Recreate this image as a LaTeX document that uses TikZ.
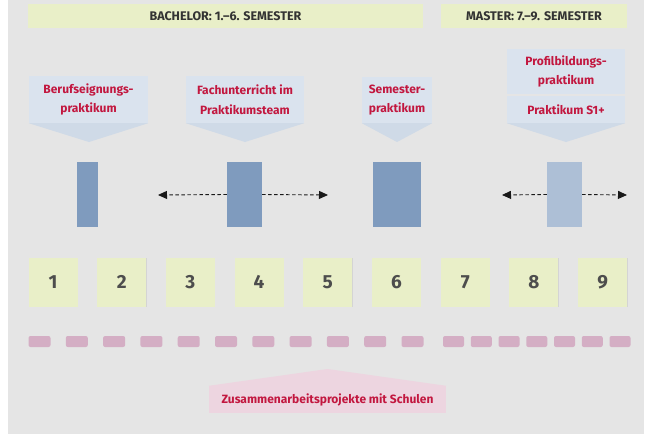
\documentclass[tikz,border=0pt]{standalone}
\usepackage{fontspec}
\setmainfont{Fira Sans}[UprightFont=* SemiBold, BoldFont=* Bold]
\usetikzlibrary{arrows.meta,shadows}
\definecolor{bggray}{HTML}{E5E5E5}
\definecolor{yellowc}{HTML}{E9EFC8}
\definecolor{bluedark}{HTML}{7F9BBE}
\definecolor{bluelight}{HTML}{ADBFD6}
\definecolor{callout}{HTML}{DAE3EE}
\definecolor{callouttri}{HTML}{CFDAE7}
\definecolor{pill}{HTML}{D4AEC4}
\definecolor{pinkbox}{HTML}{EDD5E0}
\definecolor{redtext}{HTML}{C2173F}
\definecolor{darktext}{HTML}{333333}
\definecolor{numtext}{HTML}{4D4D4D}
\tikzset{
  softshadow/.style={drop shadow={shadow xshift=0.4pt, shadow yshift=-0.4pt, opacity=0.07, fill=black}},
  hdr/.style={fill=yellowc, softshadow, inner sep=0pt, minimum height=24pt, text=darktext,
    font=\bfseries\fontsize{12.5}{14}\selectfont},
  semsq/.style={fill=yellowc, softshadow, inner sep=0pt, minimum width=49pt, minimum height=49pt,
    text=numtext, font=\bfseries\fontsize{19}{21}\selectfont},
  pillb/.style={fill=pill, rounded corners=2pt, inner sep=0pt, minimum height=11pt},
  bar/.style={fill=bluedark, softshadow, inner sep=0pt, minimum height=65pt},
  barlight/.style={fill=bluelight, softshadow, inner sep=0pt, minimum height=65pt},
  calloutbox/.style={fill=callout, inner sep=0pt, text=redtext, align=center,
    font=\bfseries\fontsize{12}{19.5}\selectfont},
  pinkcallout/.style={fill=pinkbox, inner sep=0pt, text=redtext,
    font=\bfseries\fontsize{12}{14}\selectfont},
  dasharrow/.style={draw=black!90, line width=0.9pt, dash pattern=on 3.5pt off 2.5pt,
    -{Triangle[length=9pt,width=8pt]}}
}
\begin{document}
\begin{tikzpicture}[x=1pt,y=-1pt]
\fill[white] (0,0) rectangle (650,434);
\fill[bggray] (8,0) rectangle (644,434);
\useasboundingbox (0,0) rectangle (650,434);

% headers
\node[hdr, minimum width=395pt] (bach) at (225.5,16) {BACHELOR: 1.–6. SEMESTER};
\node[hdr, minimum width=186pt] (mast) at (534,16) {MASTER: 7.–9. SEMESTER};

% callouts
\node[calloutbox, minimum width=119pt, minimum height=47pt] (c1) at (88.5,99.5) {Berufseignungs-\\praktikum};
\coordinate (t1) at (89,142);
\fill[callouttri] (c1.south west) -- (c1.south east) -- (t1) -- cycle;

\node[calloutbox, minimum width=118pt, minimum height=47pt] (c2) at (245,99.5) {Fachunterricht im\\Praktikumsteam};
\coordinate (t2) at (245,142);
\fill[callouttri] (c2.south west) -- (c2.south east) -- (t2) -- cycle;

\node[calloutbox, minimum width=70pt, minimum height=46pt] (c3) at (397,100) {Semester-\\praktikum};
\coordinate (t3) at (397,142);
\fill[callouttri] (c3.south west) -- (c3.south east) -- (t3) -- cycle;

\node[calloutbox, minimum width=118pt, minimum height=44.5pt] (c4a) at (566,71.25) {Profilbildungs-\\praktikum};
\node[calloutbox, minimum width=118pt, minimum height=27.5pt] (c4b) at (566,109.25) {Praktikum S1+};
\coordinate (t4) at (566,142);
\fill[callouttri] (c4b.south west) -- (c4b.south east) -- (t4) -- cycle;

% bars
\node[bar, minimum width=21pt] (b1) at (87.5,194.5) {};
\node[bar, minimum width=35pt] (b2) at (244.5,194.5) {};
\node[bar, minimum width=48pt] (b3) at (397,194.5) {};
\node[barlight, minimum width=35pt] (b4) at (564.5,194.5) {};

\coordinate (a2l) at (158,195);
\coordinate (a2r) at (328,195);
\coordinate (a4l) at (502,195);
\coordinate (a4r) at (627,195);
\draw[dasharrow] (b2.west) -- (a2l);
\draw[dasharrow] (b2.east) -- (a2r);
\draw[dasharrow] (b4.west) -- (a4l);
\draw[dasharrow] (b4.east) -- (a4r);

% semester squares
\foreach \i in {1,...,9} {
  \node[semsq] (s\i) at ({53+(\i-1)*68.7},282) {\i};
}

% pills
\foreach \i in {1,...,11} {
  \node[pillb, minimum width=22pt] (pb\i) at ({39.5+(\i-1)*37.3},341.5) {};
}
\foreach \i in {1,...,7} {
  \node[pillb, minimum width=21pt] (pm\i) at ({453.5+(\i-1)*27.75},341.5) {};
}

% bottom callout
\node[pinkcallout, minimum width=237pt, minimum height=27pt] (zp) at (327.5,399.5) {Zusammenarbeitsprojekte mit Schulen};
\coordinate (tz) at (327.5,369);
\fill[pinkbox] (zp.north west) -- (tz) -- (zp.north east) -- cycle;
\end{tikzpicture}
\end{document}
